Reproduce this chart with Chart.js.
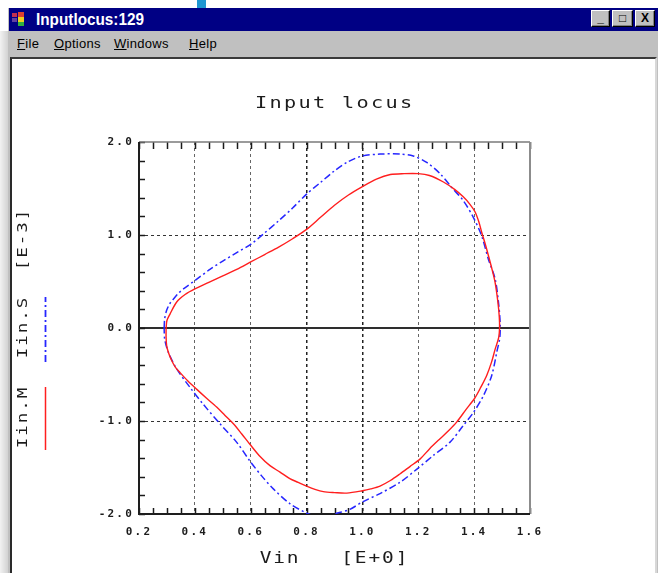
<!DOCTYPE html>
<html>
<head>
<meta charset="utf-8">
<title>Inputlocus:129</title>
<script src="https://cdn.jsdelivr.net/npm/chart.js@4.4.1/dist/chart.umd.min.js"></script>
<style>
  html, body { margin: 0; padding: 0; width: 658px; height: 573px; overflow: hidden; background: #fff; }
  .abs { position: absolute; }
  #edge { left: 0; top: 31px; width: 8px; height: 542px; background: linear-gradient(to right, #f2f2f2, #d2d2d2); }
  #frame { left: 8px; top: 8px; width: 650px; height: 565px; background: #c0c0c0; }
  #titlebar { left: 9px; top: 8px; width: 649px; height: 23px; background: #000084; }
  #ttl { left: 36px; top: 10px; color: #fff; font: bold 17px "Liberation Sans", Arial, sans-serif; line-height: 20px;
         white-space: nowrap; transform: scaleX(0.9); transform-origin: 0 0; }
  .ico { position: absolute; }
  .btn { top: 10px; height: 17px; background: #c0c0c0; box-sizing: border-box;
         border-top: 1px solid #fff; border-left: 1px solid #fff; border-right: 1px solid #000; border-bottom: 1px solid #000;
         box-shadow: inset -1px -1px 0 #808080; color: #000; font: bold 12px "Liberation Sans", Arial, sans-serif;
         text-align: center; line-height: 15px; }
  .menu { top: 36px; font: 13px "Liberation Sans", Arial, sans-serif; line-height: 16px; color: #000; letter-spacing: 0.3px; white-space: nowrap; }
  .menu u { text-decoration: underline; }
  #client { left: 10px; top: 57px; width: 647px; height: 520px; background: #fff; box-sizing: border-box;
            border-top: 2px solid #3a3a3a; border-left: 2px solid #2a2a2a; border-right: 2px solid #d8d8d8; }
  #cyan { left: 197px; top: 0; width: 9px; height: 8px; background: #1e96d2; }
  #plot { position: absolute; left: 0; top: 0; }
</style>
</head>
<body>
<div id="edge" class="abs"></div>
<div id="frame" class="abs"></div>
<div id="titlebar" class="abs">
  <div class="ico" style="left:3px;top:5px;width:5px;height:4px;background:#c03050"></div>
  <div class="ico" style="left:3px;top:10px;width:5px;height:4px;background:#6040a0"></div>
  <div class="ico" style="left:9px;top:4px;width:6px;height:5px;background:#e04030"></div>
  <div class="ico" style="left:9px;top:9px;width:6px;height:5px;background:#f0d020"></div>
  <div class="ico" style="left:9px;top:14px;width:6px;height:4px;background:#30b040"></div>
</div>
<div id="ttl" class="abs">Inputlocus:129</div>
<div class="abs btn" style="left:591px;width:19px;">_</div>
<div class="abs btn" style="left:612px;width:21px;">&#9633;</div>
<div class="abs btn" style="left:635px;width:20px;">X</div>
<div class="abs menu" style="left:17px;"><u>F</u>ile</div>
<div class="abs menu" style="left:54px;"><u>O</u>ptions</div>
<div class="abs menu" style="left:114px;"><u>W</u>indows</div>
<div class="abs menu" style="left:189px;"><u>H</u>elp</div>
<div id="client" class="abs"></div>
<div id="cyan" class="abs"></div>
<canvas id="plot" width="658" height="573"></canvas>

<script>
// Input locus: input current (real Vin, imaginary Iin) traced over one period.
// Iin.M - measured locus (red, solid)
const mVin = [0.297, 0.300, 0.311, 0.335, 0.365, 0.400, 0.450, 0.500, 0.550, 0.600, 0.650, 0.700, 0.750,
  0.800, 0.850, 0.900, 0.950, 1.000, 1.050, 1.100, 1.150, 1.200, 1.240, 1.290, 1.330, 1.361, 1.385,
  1.403, 1.417, 1.427, 1.440, 1.451, 1.465, 1.475, 1.485, 1.490, 1.491,
  1.488, 1.475, 1.462, 1.445, 1.425, 1.403, 1.370, 1.338, 1.310, 1.278, 1.240, 1.206, 1.170, 1.134,
  1.100, 1.063, 1.030, 1.000, 0.944, 0.900, 0.860, 0.830, 0.800, 0.770, 0.740, 0.705, 0.669, 0.630,
  0.597, 0.568, 0.538, 0.508, 0.478, 0.440, 0.407, 0.375, 0.347, 0.330, 0.317, 0.305, 0.299, 0.297, 0.297];
const mIin = [0.00, 0.08, 0.15, 0.28, 0.36, 0.42, 0.49, 0.56, 0.63, 0.71, 0.79, 0.87, 0.96,
  1.06, 1.19, 1.32, 1.43, 1.52, 1.60, 1.65, 1.66, 1.66, 1.64, 1.57, 1.49, 1.41, 1.33,
  1.25, 1.14, 1.03, 0.90, 0.78, 0.62, 0.49, 0.28, 0.12, 0.00,
  -0.10, -0.23, -0.37, -0.51, -0.63, -0.75, -0.88, -1.01, -1.10, -1.19, -1.30, -1.41, -1.49, -1.57,
  -1.64, -1.70, -1.73, -1.75, -1.775, -1.77, -1.76, -1.735, -1.70, -1.66, -1.62, -1.55, -1.48, -1.37,
  -1.25, -1.14, -1.03, -0.94, -0.85, -0.75, -0.66, -0.57, -0.48, -0.42, -0.35, -0.26, -0.19, -0.10, 0.00];

// Iin.S - simulated locus (blue, dash-dot)
const sVin = [0.290, 0.292, 0.299, 0.310, 0.323, 0.340, 0.359, 0.400, 0.454, 0.500, 0.550, 0.600, 0.645,
  0.699, 0.750, 0.800, 0.848, 0.900, 0.950, 1.000, 1.063, 1.134, 1.182, 1.230, 1.278, 1.320, 1.361,
  1.397, 1.427, 1.451, 1.475, 1.487, 1.493,
  1.492, 1.481, 1.463, 1.433, 1.397, 1.361, 1.313, 1.254, 1.194, 1.134, 1.063, 1.000, 0.955, 0.910,
  0.870, 0.830, 0.800, 0.741, 0.681, 0.639, 0.597, 0.550, 0.490, 0.430, 0.383, 0.335, 0.305, 0.292, 0.290];
const sIin = [0.00, 0.10, 0.19, 0.26, 0.31, 0.37, 0.42, 0.51, 0.63, 0.72, 0.81, 0.90, 1.01,
  1.15, 1.29, 1.44, 1.56, 1.69, 1.79, 1.85, 1.87, 1.87, 1.85, 1.78, 1.66, 1.51, 1.37,
  1.19, 0.99, 0.74, 0.53, 0.28, 0.06,
  -0.10, -0.26, -0.51, -0.73, -0.91, -1.05, -1.23, -1.37, -1.52, -1.66, -1.78, -1.87, -1.95, -1.99,
  -2.02, -2.02, -1.99, -1.89, -1.73, -1.59, -1.43, -1.23, -1.03, -0.82, -0.64, -0.44, -0.26, -0.12, 0.00];

// Axis ranges and tick steps
const xTicks = { min: 0.2, max: 1.6, step: 0.2, minor: 0.05 };
const yTicks = { min: -2.0, max: 2.0, step: 1.0, minor: 0.2 };

const titleText = 'Input locus';
const xTitle = 'Vin   [E+0]';
const yUnit = '[E-3]';
const seriesNames = ['Iin.M', 'Iin.S'];

const RED = '#ff1e1e';
const BLUE = '#2626ff';
const BLUE_DASH = [7, 3, 2, 3];
const INK = '#1c1c1c';
const MONO = '"DejaVu Sans Mono", "Liberation Mono", monospace';

const pts = (xs, ys) => xs.map((x, i) => ({ x, y: ys[i] }));
const near = (a, b) => Math.abs(a - b) < 1e-6;

// Wide terminal-style lettering: stretch glyphs horizontally and space them evenly.
function wideText(ctx, text, x, y, size, adv, sx, rot) {
  ctx.save();
  ctx.font = size + 'px ' + MONO;
  const ls = adv / sx - 0.602 * size;
  ctx.letterSpacing = ls + 'px';
  ctx.fillStyle = INK;
  ctx.textBaseline = 'middle';
  ctx.textAlign = 'left';
  ctx.translate(x, y);
  if (rot) ctx.rotate(rot);
  ctx.scale(sx, 1);
  const w = text.length * (0.602 * size + ls) - ls;
  ctx.fillText(text, -w / 2, 0);
  ctx.restore();
}

function seg(ctx, x1, y1, x2, y2, color, width, dash) {
  ctx.save();
  ctx.strokeStyle = color;
  ctx.lineWidth = width;
  ctx.setLineDash(dash || []);
  ctx.beginPath();
  ctx.moveTo(x1, y1);
  ctx.lineTo(x2, y2);
  ctx.stroke();
  ctx.restore();
}

const spacing = {
  id: 'tickSpacing',
  beforeDraw(chart) { chart.ctx.letterSpacing = '2.2px'; }
};

// Frame, zero line and inward minor ticks
const frame = {
  id: 'frame',
  beforeDatasetsDraw(chart) {
    const ctx = chart.ctx;
    const { left, right, top, bottom } = chart.chartArea;
    const xs = chart.scales.x, ys = chart.scales.y;
    const y0 = ys.getPixelForValue(0);
    seg(ctx, left, y0, right, y0, '#2e2e2e', 2);
    const nx = Math.round((xTicks.max - xTicks.min) / xTicks.minor);
    for (let i = 0; i <= nx; i++) {
      const px = Math.round(xs.getPixelForValue(xTicks.min + i * xTicks.minor)) + 0.5;
      seg(ctx, px, top, px, top + 7, '#1a1a1a', 1.5);
      seg(ctx, px, bottom, px, bottom - 6, '#1a1a1a', 1.5);
    }
    const ny = Math.round((yTicks.max - yTicks.min) / yTicks.minor);
    for (let i = 0; i <= ny; i++) {
      const py = Math.round(ys.getPixelForValue(yTicks.min + i * yTicks.minor)) + 0.5;
      seg(ctx, left, py, left + 6, py, '#1a1a1a', 1.5);
    }
    seg(ctx, left, top, right, top, '#7a7a7a', 1.5);
    seg(ctx, right, top, right, bottom, '#8c8c8c', 2);
    seg(ctx, left, top, left, bottom + 1, '#1e1e1e', 2);
    seg(ctx, left - 1, bottom, right, bottom, '#1e1e1e', 2);
  }
};

// Title, axis title and the vertical series key at the left
const labels = {
  id: 'labels',
  afterDraw(chart) {
    const ctx = chart.ctx;
    ctx.letterSpacing = '0px';
    const { left, right } = chart.chartArea;
    const cx = (left + right) / 2;
    wideText(ctx, titleText, cx - 1, 104, 15, 14.5, 1.35, 0);
    wideText(ctx, xTitle, cx - 1, 559, 15, 13.6, 1.3, 0);
    const up = -Math.PI / 2;
    wideText(ctx, yUnit, 23, 240, 14, 12.5, 1.25, up);
    wideText(ctx, seriesNames[1], 23, 328, 14, 12.5, 1.25, up);
    wideText(ctx, seriesNames[0], 23, 418, 14, 12.5, 1.25, up);
    seg(ctx, 45.5, 450, 45.5, 387, RED, 1.5);
    seg(ctx, 45.5, 362, 45.5, 297, BLUE, 1.8, BLUE_DASH);
  }
};

const gridColor = (axis) => (c) => {
  const v = c.tick ? c.tick.value : null;
  if (v === null) return 'rgba(0,0,0,0)';
  if (axis === 'x') {
    if (near(v, xTicks.min) || near(v, xTicks.max)) return 'rgba(0,0,0,0)';
    return (near(v, 0.8) || near(v, 1.0)) ? '#222' : '#666';
  }
  if (near(v, yTicks.min) || near(v, yTicks.max) || near(v, 0)) return 'rgba(0,0,0,0)';
  return '#333';
};

const tickFont = { family: MONO, size: 11, weight: 'bold' };

new Chart(document.getElementById('plot'), {
  type: 'scatter',
  data: {
    datasets: [
      { label: seriesNames[0], data: pts(mVin, mIin), showLine: true, borderColor: RED, borderWidth: 1.4,
        pointRadius: 0, tension: 0.3, fill: false },
      { label: seriesNames[1], data: pts(sVin, sIin), showLine: true, borderColor: BLUE, borderWidth: 1.5,
        borderDash: BLUE_DASH, pointRadius: 0, tension: 0.3, fill: false }
    ]
  },
  options: {
    responsive: false,
    animation: false,
    events: [],
    layout: { padding: { left: 99, right: 128, top: 142, bottom: 19 } },
    plugins: { legend: { display: false }, tooltip: { enabled: false }, title: { display: false } },
    scales: {
      x: {
        type: 'linear', position: 'bottom', min: xTicks.min, max: xTicks.max,
        afterFit: (s) => { s.height = 40; },
        ticks: { stepSize: xTicks.step, padding: 12, color: INK, autoSkip: false, maxRotation: 0,
                 font: tickFont, callback: (v) => Number(v).toFixed(1) },
        grid: { drawTicks: false, color: gridColor('x'), lineWidth: (c) => (c.tick && (near(c.tick.value, 0.8) || near(c.tick.value, 1.0))) ? 1.5 : 1 },
        border: { display: false, dash: [3, 3] }
      },
      y: {
        type: 'linear', position: 'left', min: yTicks.min, max: yTicks.max,
        afterFit: (s) => { s.width = 40; },
        ticks: { stepSize: yTicks.step, padding: 5, color: INK,
                 font: tickFont, callback: (v) => Number(v).toFixed(1) },
        grid: { drawTicks: false, color: gridColor('y'), lineWidth: 1 },
        border: { display: false, dash: [3, 3] }
      }
    }
  },
  plugins: [spacing, frame, labels]
});
</script>
</body>
</html>
